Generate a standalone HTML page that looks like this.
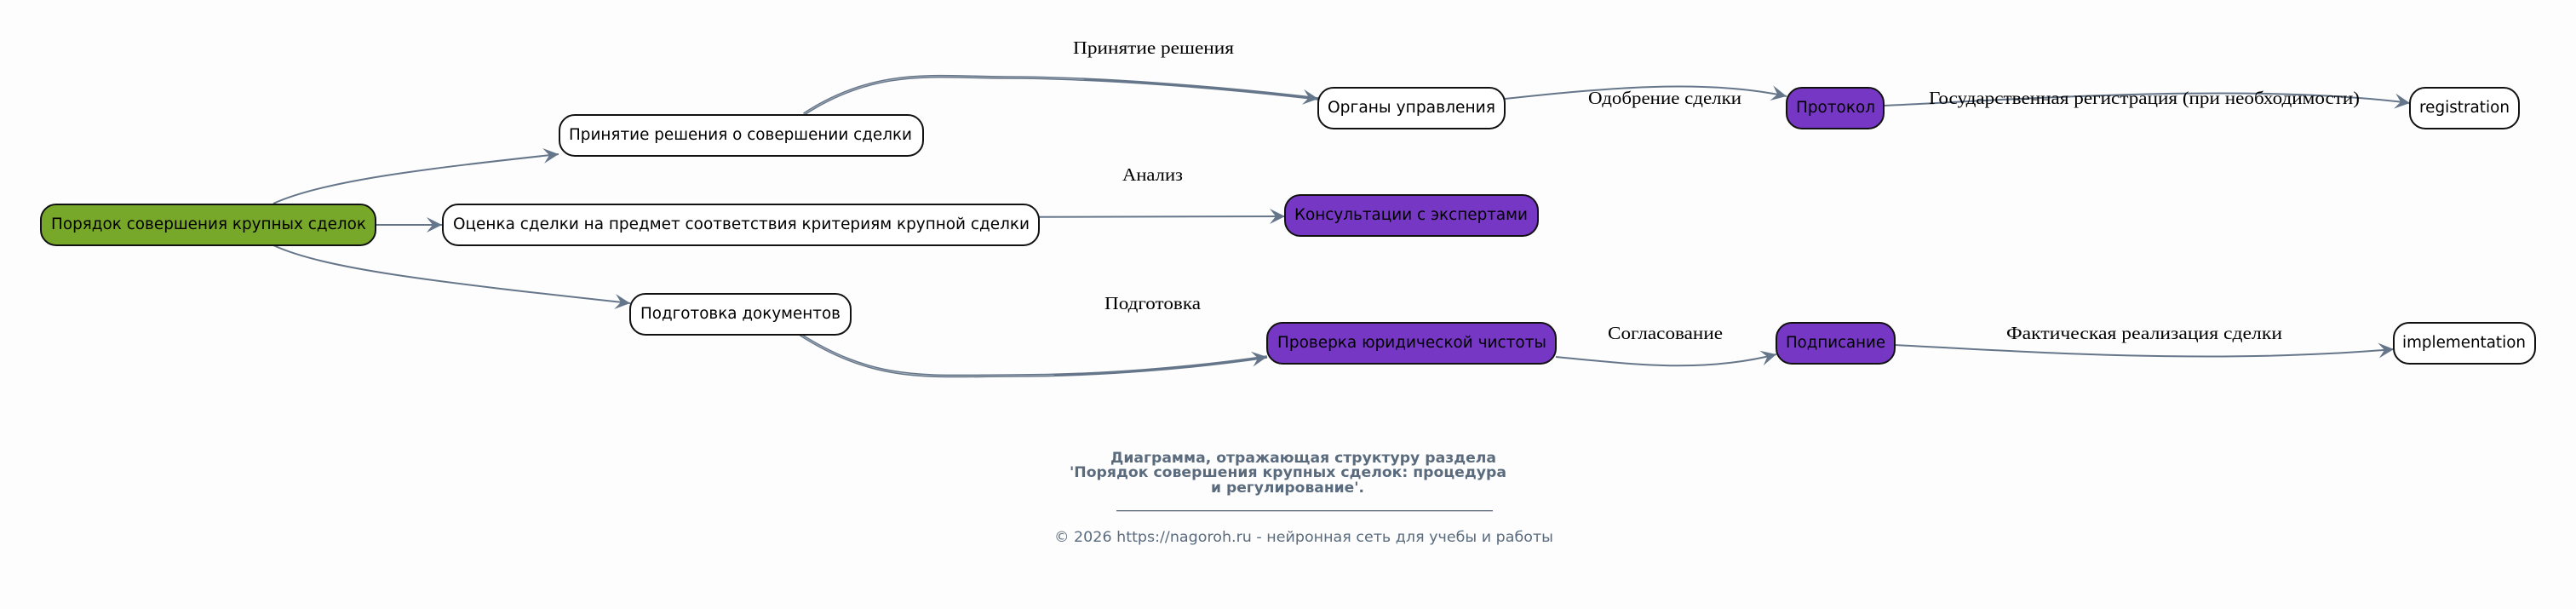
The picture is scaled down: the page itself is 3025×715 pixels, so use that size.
<!DOCTYPE html>
<html><head><meta charset="utf-8"><style>
html,body{margin:0;padding:0;background:#fdfdfd;width:3025px;height:715px;overflow:hidden}
svg{display:block}
.n{stroke:#111;stroke-width:2}
.t{font-family:"DejaVu Sans",sans-serif;font-size:18.7px;fill:#000}
.l{font-family:"Liberation Serif",serif;font-size:21px;fill:#000}
.e{fill:none;stroke:#66768a;stroke-width:2}
.d{stroke-width:3.6}
.i{fill:none;stroke:#aab4be;stroke-width:.8}
.c{font-family:"DejaVu Sans",sans-serif;fill:#5a6b7d}
</style></head><body>
<svg width="3025" height="715" viewBox="0 0 3025 715" xmlns="http://www.w3.org/2000/svg">
<defs><marker id="a" markerUnits="userSpaceOnUse" markerWidth="24" markerHeight="24" refX="19" refY="12" orient="auto"><path d="M19 12L1 3L8 12L1 21Z" fill="#66768a"/></marker></defs>
<g>
<path class="e" marker-end="url(#a)" d="M321 239C380 212 500 198 656 181"/>
<path class="e" marker-end="url(#a)" d="M441 264L519 264"/>
<path class="e" marker-end="url(#a)" d="M321 288C380 315 500 330 740 356"/>
<path class="e d" marker-end="url(#a)" d="M944 134C1030 78 1100 91 1180 91C1290 91 1440 103 1548 116"/>
<path class="i" pathLength="100" stroke-dasharray="55 100" d="M944 134C1030 78 1100 91 1180 91C1290 91 1440 103 1548 116"/>
<path class="e" marker-end="url(#a)" d="M1220 254.7L1509 254"/>
<path class="e" marker-end="url(#a)" d="M1767 116C1880 104 2000 92 2098 113"/>
<path class="e" marker-end="url(#a)" d="M2212 124C2400 115 2650 98 2830 121"/>
<path class="e d" marker-end="url(#a)" d="M940 393C1030 450 1090 441 1190 441C1290 441 1400 432 1488 419"/>
<path class="i" pathLength="100" stroke-dasharray="55 100" d="M940 393C1030 450 1090 441 1190 441C1290 441 1400 432 1488 419"/>
<path class="e" marker-end="url(#a)" d="M1827 419C1920 428 2000 438 2086 416"/>
<path class="e" marker-end="url(#a)" d="M2225 405C2380 413 2600 428 2811 410"/>
</g>
<rect class="n" x="48" y="240" width="393" height="48" rx="18" fill="#78a82a"/>
<rect class="n" x="657" y="135" width="427" height="48" rx="18" fill="#fff"/>
<rect class="n" x="520" y="240" width="700" height="48" rx="18" fill="#fff"/>
<rect class="n" x="740" y="345" width="259" height="48" rx="18" fill="#fff"/>
<rect class="n" x="1548" y="103" width="219" height="48" rx="18" fill="#fff"/>
<rect class="n" x="1509" y="229" width="297" height="48" rx="18" fill="#7637c4"/>
<rect class="n" x="1488" y="379" width="339" height="48" rx="18" fill="#7637c4"/>
<rect class="n" x="2098" y="103" width="114" height="48" rx="18" fill="#7637c4"/>
<rect class="n" x="2086" y="379" width="139" height="48" rx="18" fill="#7637c4"/>
<rect class="n" x="2830" y="103" width="128" height="48" rx="18" fill="#fff"/>
<rect class="n" x="2811" y="379" width="166" height="48" rx="18" fill="#fff"/>
<text class="t" x="60" y="269" textLength="370" lengthAdjust="spacingAndGlyphs">Порядок совершения крупных сделок</text>
<text class="t" x="668" y="164" textLength="403" lengthAdjust="spacingAndGlyphs">Принятие решения о совершении сделки</text>
<text class="t" x="532" y="269" textLength="677" lengthAdjust="spacingAndGlyphs">Оценка сделки на предмет соответствия критериям крупной сделки</text>
<text class="t" x="752" y="374" textLength="235" lengthAdjust="spacingAndGlyphs">Подготовка документов</text>
<text class="t" x="1559" y="132" textLength="197" lengthAdjust="spacingAndGlyphs">Органы управления</text>
<text class="t" x="1520" y="258" textLength="274" lengthAdjust="spacingAndGlyphs">Консультации с экспертами</text>
<text class="t" x="1500" y="408" textLength="316" lengthAdjust="spacingAndGlyphs">Проверка юридической чистоты</text>
<text class="t" x="2109" y="132" textLength="93" lengthAdjust="spacingAndGlyphs">Протокол</text>
<text class="t" x="2097" y="408" textLength="117" lengthAdjust="spacingAndGlyphs">Подписание</text>
<text class="t" x="2841" y="132" textLength="106" lengthAdjust="spacingAndGlyphs">registration</text>
<text class="t" x="2821" y="408" textLength="145" lengthAdjust="spacingAndGlyphs">implementation</text>
<text class="l" x="1260" y="63" textLength="189" lengthAdjust="spacingAndGlyphs">Принятие решения</text>
<text class="l" x="1318" y="212" textLength="71" lengthAdjust="spacingAndGlyphs">Анализ</text>
<text class="l" x="1297" y="363" textLength="113" lengthAdjust="spacingAndGlyphs">Подготовка</text>
<text class="l" x="1865" y="122" textLength="180" lengthAdjust="spacingAndGlyphs">Одобрение сделки</text>
<text class="l" x="2265" y="122" textLength="506" lengthAdjust="spacingAndGlyphs">Государственная регистрация (при необходимости)</text>
<text class="l" x="1888" y="398" textLength="135" lengthAdjust="spacingAndGlyphs">Согласование</text>
<text class="l" x="2356" y="398" textLength="324" lengthAdjust="spacingAndGlyphs">Фактическая реализация сделки</text>
<g class="c" font-size="16.5" font-weight="bold">
<text x="1304" y="543" textLength="453" lengthAdjust="spacingAndGlyphs">Диаграмма, отражающая структуру раздела</text>
<text x="1256" y="560" textLength="513" lengthAdjust="spacingAndGlyphs">'Порядок совершения крупных сделок: процедура</text>
<text x="1422" y="578" textLength="180" lengthAdjust="spacingAndGlyphs">и регулирование'.</text>
</g>
<rect x="1311" y="599" width="442" height="1.3" fill="#5a6b7d"/>
<text class="c" x="1238" y="636" font-size="17" textLength="586" lengthAdjust="spacingAndGlyphs">© 2026 https://nagoroh.ru - нейронная сеть для учебы и работы</text>
</svg>
</body></html>
